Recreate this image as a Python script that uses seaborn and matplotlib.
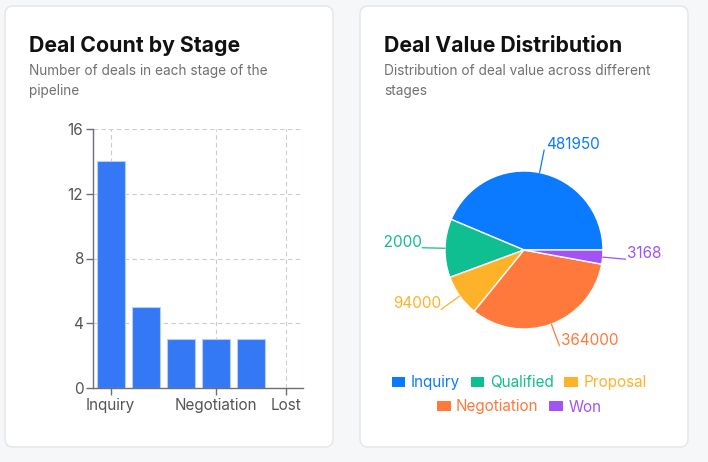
import numpy as np
import matplotlib
matplotlib.use("Agg")
import matplotlib.pyplot as plt
import seaborn as sns
from matplotlib.patches import FancyBboxPatch, Patch

# data
stages = ["Inquiry", "Qualified", "Proposal", "Negotiation", "Won", "Lost"]
deal_counts = [14, 5, 3, 3, 3, 0]
shown_ticks = ["Inquiry", "Negotiation", "Lost"]

value_stages = ["Inquiry", "Qualified", "Proposal", "Negotiation", "Won"]
deal_values = [481950, 132000, 94000, 364000, 31685]
value_colors = ["#0a7bff", "#0fbf91", "#fdb22a", "#ff793c", "#a352f5"]

W, H = 708, 462
sns.set_theme(style="white")
plt.rcParams["font.family"] = ["Inter", "DejaVu Sans"]

fig = plt.figure(figsize=(W / 100, H / 100), dpi=100)
fig.patch.set_facecolor("#f6f7f9")

# background layer in pixel coords
bg = fig.add_axes([0, 0, 1, 1])
bg.set_xlim(0, W)
bg.set_ylim(H, 0)
bg.axis("off")
for x0 in (5, 360):
    bg.add_patch(FancyBboxPatch((x0, 6), 328, 441, boxstyle="round,pad=0,rounding_size=8",
                                fc="white", ec="#e3e5e8", lw=1))

def card_text(x, title, sub1, sub2):
    bg.text(x, 52, title, fontsize=15.3, fontweight="bold", color="#111111", va="baseline")
    bg.text(x, 75, sub1, fontsize=9.8, color="#707070", va="baseline")
    bg.text(x, 95, sub2, fontsize=9.8, color="#707070", va="baseline")

card_text(29, "Deal Count by Stage", "Number of deals in each stage of the", "pipeline")
card_text(384, "Deal Value Distribution", "Distribution of deal value across different", "stages")

# bar chart
ax = fig.add_axes([93 / W, 1 - 388 / H, 210 / W, 259 / H])
sns.barplot(x=stages, y=deal_counts, ax=ax, color="#3478f6", saturation=1,
            width=0.8, edgecolor="#b7cdfb", linewidth=0.8)
ax.set_xlim(-0.5, len(stages) - 0.5)
ax.set_ylim(0, 16)
ax.set_yticks([0, 4, 8, 12, 16])
ax.set_xticks([stages.index(s) for s in shown_ticks])
ax.set_xticklabels(shown_ticks)
ax.set_xlabel("")
ax.set_ylabel("")
ax.set_axisbelow(True)
for y in [4, 8, 12, 16]:
    ax.axhline(y, color="#cccccc", lw=0.8, ls=(0, (4, 3)), zorder=0)
for x in [stages.index(s) for s in shown_ticks] + [len(stages) - 0.5]:
    ax.axvline(x, color="#cccccc", lw=0.8, ls=(0, (4, 3)), zorder=0)
for side in ["top", "right"]:
    ax.spines[side].set_visible(False)
for side in ["left", "bottom"]:
    ax.spines[side].set_color("#6e7079")
    ax.spines[side].set_linewidth(1)
ax.tick_params(axis="both", colors="#6e7079", labelcolor="#555555", labelsize=11,
               length=5, width=1, pad=2, direction="out", left=True, bottom=True)
ax.patch.set_alpha(0)

# pie chart
cx, cy, r = 524, 250, 79
px0, px1, py0, py1 = 384, 663, 130, 372
pax = fig.add_axes([px0 / W, 1 - py1 / H, (px1 - px0) / W, (py1 - py0) / H])
wedges, _ = pax.pie(deal_values, colors=value_colors, radius=r, startangle=0,
                    counterclock=True, wedgeprops=dict(edgecolor="white", linewidth=1))
pax.set_xlim(px0 - cx, px1 - cx)
pax.set_ylim(cy - py1, cy - py0)
pax.set_aspect("equal")
pax.axis("off")

for w, val, col in zip(wedges, deal_values, value_colors):
    ang = np.deg2rad((w.theta1 + w.theta2) / 2)
    c, s = np.cos(ang), np.sin(ang)
    x1, y1 = r * c, r * s
    x2, y2 = (r + 23) * c, (r + 23) * s
    pax.plot([x1, x2], [y1, y2], color=col, lw=0.9, clip_on=True)
    ha = "left" if c >= 0 else "right"
    pax.text(x2 + (1.5 if c >= 0 else 0), y2 - 2, str(val), color=col, fontsize=11,
             ha=ha, va="bottom", clip_on=True)

handles = [Patch(fc=c, ec="none") for c in value_colors]
leg_kw = dict(frameon=False, fontsize=11, handlelength=0.9, handleheight=0.65,
              handletextpad=0.35, columnspacing=0.7, borderpad=0, borderaxespad=0)
fig.legend(handles[:3], value_stages[:3], ncol=3, loc="center",
           bbox_to_anchor=(519 / W, 1 - 383 / H), labelcolor=value_colors[:3], **leg_kw)
fig.legend(handles[3:], value_stages[3:], ncol=2, loc="center",
           bbox_to_anchor=(519 / W, 1 - 407 / H), labelcolor=value_colors[3:], **leg_kw)

fig.savefig("out.png", dpi=100, facecolor=fig.get_facecolor())
